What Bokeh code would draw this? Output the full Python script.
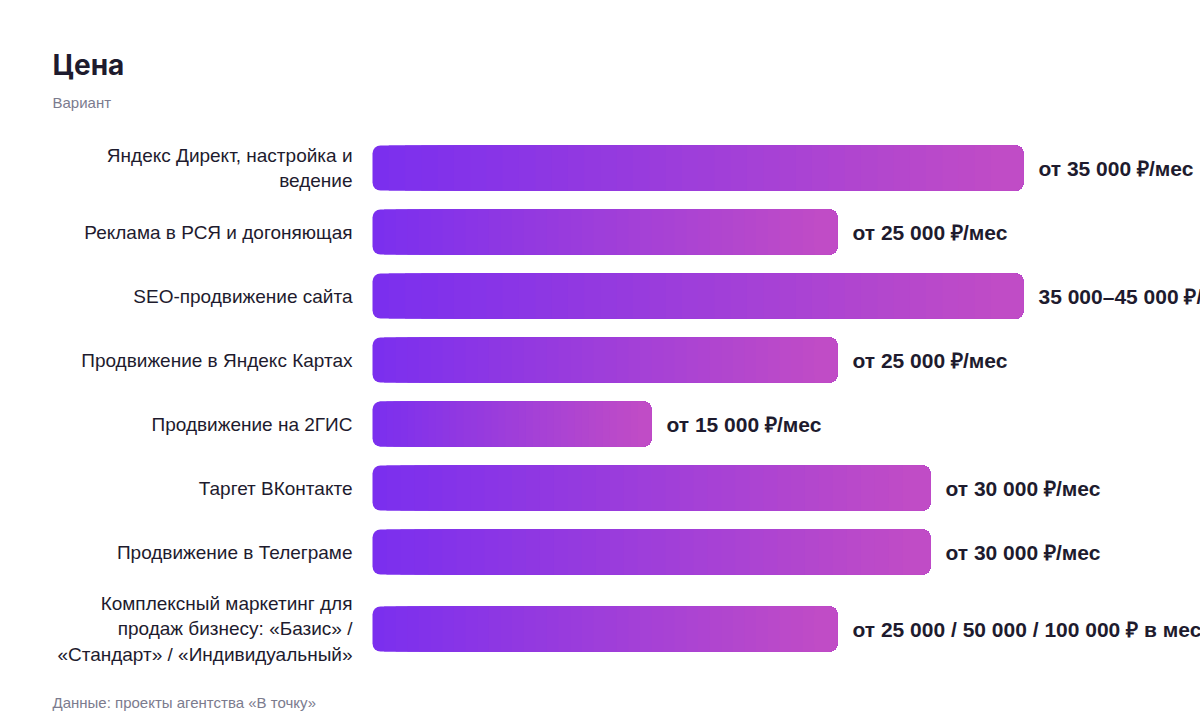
import numpy as np
from bokeh.plotting import figure
from bokeh.models import Range1d, ColumnDataSource
from bokeh.core.properties import value
from bokeh.embed import file_html
from bokeh.resources import INLINE

title = "Цена"
subtitle = "Вариант"
source_note = "Данные: проекты агентства «В точку»"

categories = [
    "Яндекс Директ, настройка и\nведение",
    "Реклама в РСЯ и догоняющая",
    "SEO-продвижение сайта",
    "Продвижение в Яндекс Картах",
    "Продвижение на 2ГИС",
    "Таргет ВКонтакте",
    "Продвижение в Телеграме",
    "Комплексный маркетинг для\nпродаж бизнесу: «Базис» /\n«Стандарт» / «Индивидуальный»",
]
values = [35000, 25000, 35000, 25000, 15000, 30000, 30000, 25000]
value_labels = [
    "от 35 000 ₽/мес",
    "от 25 000 ₽/мес",
    "35 000–45 000 ₽/мес",
    "от 25 000 ₽/мес",
    "от 15 000 ₽/мес",
    "от 30 000 ₽/мес",
    "от 30 000 ₽/мес",
    "от 25 000 / 50 000 / 100 000 ₽ в месяц",
]

W, H = 1200, 712
left_px = 372               # where bars start on the canvas
scale = 651 / max(values)   # pixels per rouble
TEXT = "#1e1b2e"
GREY = "#7b7b8e"
FONT = "Liberation Sans"

# y is in pixels from the top of the canvas
lines = [c.count("\n") + 1 for c in categories]
heights = np.array([64 + 26 * max(0, n - 2) for n in lines])
ys = 135.5 + np.concatenate([[0], np.cumsum(heights[:-1])]) + heights / 2

p = figure(width=W, height=H, output_backend="svg", toolbar_location=None,
           x_range=Range1d(-left_px / scale, (W - left_px) / scale),
           y_range=Range1d(H, 0),
           x_axis_location=None, y_axis_location=None, min_border=0)
p.grid.visible = False
p.outline_line_color = None
p.background_fill_color = "white"
p.border_fill_color = "white"

# horizontal gradient: stacked slices, each running to the bar end
c0 = np.array([0x7b, 0x2f, 0xee])
c1 = np.array([0xc0, 0x4c, 0xc6])
K = 40
N = K - 2


def mix(t):
    r, g, b = (c0 + (c1 - c0) * t).round().astype(int)
    return "#%02x%02x%02x" % (r, g, b)


first = dict(left=[], right=[], y=[], color=[])
rest = dict(left=[], right=[], y=[], color=[])
for v, y in zip(values, ys):
    step = v / K
    first["left"].append(0)
    first["right"].append(v)
    first["y"].append(y)
    first["color"].append(mix(0))
    for j in range(1, N + 1):
        rest["left"].append(j * step)
        rest["right"].append(v)
        rest["y"].append(y)
        rest["color"].append(mix(j / N))

p.hbar(y="y", left="left", right="right", height=45, fill_color="color",
       line_color=None, border_radius=8, source=ColumnDataSource(first))
p.hbar(y="y", left="left", right="right", height=45, fill_color="color",
       line_color=None, border_radius=(0, 8, 8, 0), source=ColumnDataSource(rest))

# category labels
p.text(x=[0] * len(categories), y=ys, text=categories, x_offset=-20,
       text_align="right", text_baseline="middle", text_font=value(FONT),
       text_font_size="19px", text_color=TEXT, text_line_height=1.2)

# value labels
p.text(x=values, y=ys, text=value_labels, x_offset=15,
       text_align="left", text_baseline="middle", text_font=value(FONT),
       text_font_size="21px", text_font_style="bold", text_color=TEXT)

# title, subtitle and source note, left-aligned with the page
x0 = (52 - left_px) / scale
p.text(x=[x0], y=[64], text=[title], text_align="left", text_baseline="middle",
       text_font=value("Inter"), text_font_size="28px", text_font_style="bold",
       text_color=TEXT)
p.text(x=[x0], y=[102], text=[subtitle], text_align="left", text_baseline="middle",
       text_font=value(FONT), text_font_size="15px", text_color=GREY)
p.text(x=[x0], y=[702], text=[source_note], text_align="left", text_baseline="middle",
       text_font=value(FONT), text_font_size="15px", text_color=GREY)

open("out.html", "w").write(file_html(p, INLINE))
